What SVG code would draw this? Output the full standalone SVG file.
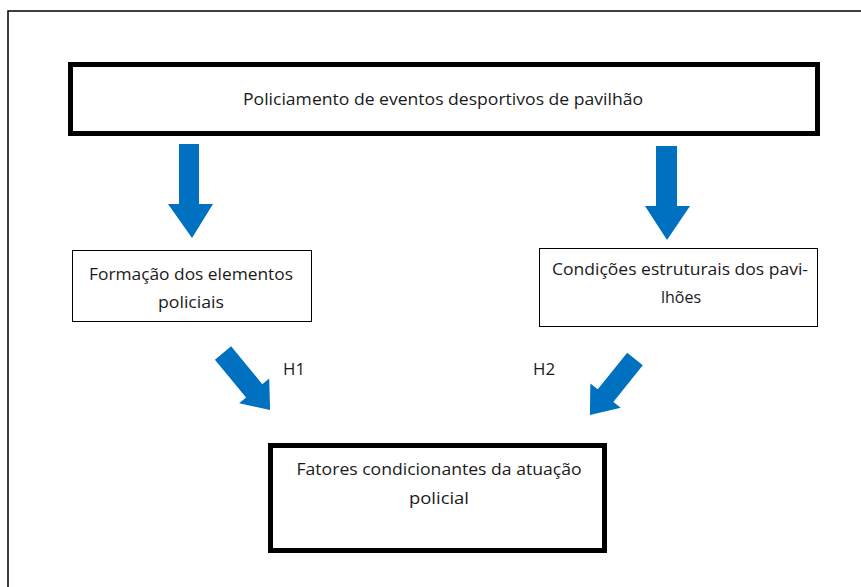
<svg xmlns="http://www.w3.org/2000/svg" width="861" height="587" viewBox="0 0 861 587">
<style>
.t{font-family:"Open Sans","Liberation Sans",sans-serif;font-size:16px;fill:#1a1a1a;}
.thin{fill:#fff;stroke:#000;stroke-width:1;}
.thick{fill:#fff;stroke:#000;stroke-width:5;}
.arr{fill:#0070C0;}
</style>
<rect width="861" height="587" fill="#fff"/>
<rect x="8" y="11" width="900" height="640" fill="none" stroke="#000" stroke-width="1.5"/>
<g id="top">
<rect class="thick" x="70.5" y="64.5" width="747" height="69"/>
<text class="t" x="443" y="105" text-anchor="middle" textLength="400" lengthAdjust="spacingAndGlyphs">Policiamento de eventos desportivos de pavilhão</text>
</g>
<g id="formacao">
<rect class="thin" x="72.5" y="250.5" width="239" height="71"/>
<text class="t" x="191" y="280" text-anchor="middle" textLength="204" lengthAdjust="spacingAndGlyphs">Formação dos elementos</text>
<text class="t" x="191" y="308" text-anchor="middle" textLength="66" lengthAdjust="spacingAndGlyphs">policiais</text>
</g>
<g id="condicoes">
<rect class="thin" x="539.5" y="248.5" width="278" height="78"/>
<text class="t" x="680" y="275" text-anchor="middle" textLength="256" lengthAdjust="spacingAndGlyphs">Condições estruturais dos pavi-</text>
<text class="t" x="681" y="303" text-anchor="middle">lhões</text>
</g>
<g id="fatores">
<rect class="thick" x="270.5" y="445.5" width="334" height="105"/>
<text class="t" x="439" y="475" text-anchor="middle" textLength="285" lengthAdjust="spacingAndGlyphs">Fatores condicionantes da atuação</text>
<text class="t" x="439" y="504" text-anchor="middle" textLength="60" lengthAdjust="spacingAndGlyphs">policial</text>
</g>
<g id="connectors">
<polygon class="arr" points="179,144 199,144 199,204 213,204 192,238 168,204 179,204"/>
<polygon class="arr" points="656,146 677,146 677,206 690,206 667,240 645,206 656,206"/>
<polygon class="arr" transform="translate(223,353) rotate(50.5)" points="0,-10.5 49,-10.5 49,-19.5 74,0 49,19.5 49,10.5 0,10.5"/>
<polygon class="arr" transform="translate(635,359) rotate(128.8)" points="0,-10 47,-10 47,-19.5 72,0 47,19.5 47,10 0,10"/>
<text class="t" x="283" y="375" textLength="22" lengthAdjust="spacingAndGlyphs">H1</text>
<text class="t" x="533" y="375" textLength="22" lengthAdjust="spacingAndGlyphs">H2</text>
</g>
</svg>
